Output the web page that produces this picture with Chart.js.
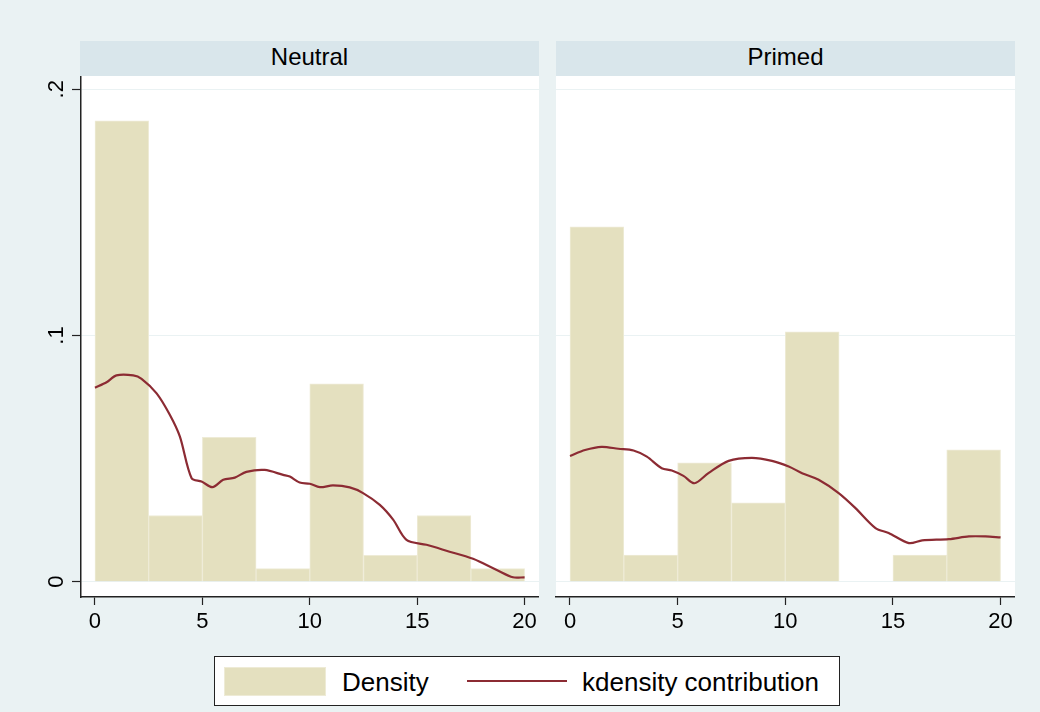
<!DOCTYPE html>
<html>
<head>
<meta charset="utf-8">
<script src="https://cdn.jsdelivr.net/npm/chart.js@4.4.1/dist/chart.umd.min.js"></script>
<style>
  body { margin: 0; background: #eaf2f3; }
  #wrap { position: relative; width: 1040px; height: 712px; background: #eaf2f3; font-family: "Liberation Sans", Arial, sans-serif; }
  .head { position: absolute; top: 41px; height: 35px; background: #d9e6eb; color: #000; font-size: 24px; line-height: 32px; text-align: center; }
  canvas { position: absolute; }
  #legend { position: absolute; left: 214px; top: 656px; width: 624px; height: 48px; background: #fff; border: 1px solid #222; }
  #legend .sw { position: absolute; left: 9px; top: 10px; width: 100px; height: 27px; background: #e4e0bf; border: 1px solid #eeebd6; }
  #legend .ln { position: absolute; left: 252px; top: 23px; width: 100px; height: 2px; }
  #legend .tx { position: absolute; top: 10px; font-size: 26px; line-height: 30px; }
</style>
</head>
<body>
<div id="wrap">
  <div class="head" style="left:80px;width:459px;">Neutral</div>
  <div class="head" style="left:556px;width:459px;">Primed</div>
  <canvas id="c1" width="539" height="574" style="left:0;top:76px;"></canvas>
  <canvas id="c2" width="475" height="574" style="left:540px;top:76px;"></canvas>
  <div id="legend"></div>
</div>
<script>
// histogram bins (midpoints, width 2.5)
var binMid = [1.25, 3.75, 6.25, 8.75, 11.25, 13.75, 16.25, 18.75];
var neutralDensity = [0.1872, 0.0269, 0.0586, 0.0053, 0.0804, 0.0107, 0.0269, 0.0053];
var primedDensity = [0.1441, 0.0108, 0.0483, 0.032, 0.1015, 0, 0.0108, 0.0536];

// kdensity curves
var neutralKx = [0, 0.54, 1.0, 1.78, 2.17, 2.87, 3.49, 3.95, 4.5, 4.96, 5.47, 5.97, 6.51, 7.05, 7.9, 8.76, 9.07, 9.53, 10.0, 10.47, 11.08, 11.86, 12.48, 13.26, 13.88, 14.5, 15.43, 16.36, 17.6, 18.68, 19.46, 20];
var neutralKy = [0.0788, 0.081, 0.0838, 0.0838, 0.0824, 0.0765, 0.0677, 0.059, 0.042, 0.0407, 0.0384, 0.0414, 0.0423, 0.0446, 0.0454, 0.0434, 0.0427, 0.0403, 0.0398, 0.0384, 0.0391, 0.0383, 0.036, 0.0312, 0.0252, 0.017, 0.015, 0.0126, 0.0093, 0.0049, 0.0018, 0.0018];
var primedKx = [0, 0.7, 1.47, 2.25, 2.95, 3.57, 4.26, 4.73, 5.27, 5.78, 6.43, 7.37, 8.45, 9.38, 10.16, 10.78, 11.55, 12.48, 13.26, 14.19, 14.8, 15.74, 16.36, 17.6, 18.53, 19.3, 20];
var primedKy = [0.0511, 0.0535, 0.0548, 0.054, 0.0533, 0.0508, 0.0461, 0.0452, 0.043, 0.04, 0.0441, 0.0491, 0.0503, 0.0491, 0.0468, 0.0441, 0.0414, 0.036, 0.0299, 0.0218, 0.0198, 0.0157, 0.0168, 0.0173, 0.0184, 0.0184, 0.018];

var xTicks = [0, 5, 10, 15, 20];
var yTicks = [0, 0.1, 0.2];
var yTickLabels = ['0', '.1', '.2'];

var barColor = '#e4e0bf';
var barEdge = '#eeebd6';
var lineColor = '#8c2b33';
var fontFam = '"Liberation Sans", Arial, sans-serif';

// white plot region
var plotBg = {
  id: 'plotBg',
  beforeDraw: function(chart) {
    var a = chart.chartArea, ctx = chart.ctx;
    ctx.save();
    ctx.fillStyle = '#fff';
    ctx.fillRect(a.left, a.top, a.right - a.left, a.bottom - a.top);
    ctx.restore();
  }
};

// rotated y tick labels (stata style)
var yLabels = {
  id: 'yLabels',
  afterDraw: function(chart) {
    var s = chart.scales.y, ctx = chart.ctx;
    ctx.save();
    ctx.font = '22px ' + fontFam;
    ctx.fillStyle = '#000';
    ctx.textAlign = 'center';
    ctx.textBaseline = 'middle';
    for (var i = 0; i < yTicks.length; i++) {
      var py = s.getPixelForValue(yTicks[i]);
      ctx.save();
      ctx.translate(s.right - 24, py);
      ctx.rotate(-Math.PI / 2);
      ctx.fillText(yTickLabels[i], 0, 0);
      ctx.restore();
    }
    ctx.restore();
  }
};

function makePanel(id, dens, kx, ky, first) {
  var bars = binMid.map(function(m, i) { return {x: m, y: dens[i]}; });
  var kd = kx.map(function(v, i) { return {x: v, y: ky[i]}; });
  return new Chart(document.getElementById(id), {
    type: 'bar',
    data: {
      datasets: [{
        type: 'line',
        label: 'kdensity contribution',
        data: kd,
        borderColor: lineColor,
        borderWidth: 2.2,
        pointRadius: 0,
        tension: 0.3,
        order: 0
      }, {
        label: 'Density',
        data: bars,
        backgroundColor: barColor,
        borderColor: barEdge,
        borderWidth: 1,
        barPercentage: 1,
        categoryPercentage: 1,
        order: 1
      }]
    },
    options: {
      responsive: false,
      animation: false,
      events: [],
      layout: { padding: 0 },
      plugins: { legend: { display: false }, tooltip: { enabled: false } },
      scales: {
        x: {
          type: 'linear',
          offset: false,
          min: -0.65,
          max: 20.67,
          afterBuildTicks: function(s) { s.ticks = xTicks.map(function(v) { return {value: v}; }); },
          afterFit: function(s) { s.height = 53; s.paddingLeft = 0; s.paddingRight = 0; },
          grid: { offset: false, drawOnChartArea: false, tickLength: 8, tickColor: '#222', tickWidth: 1.2 },
          border: { display: true, color: '#222', width: 1.5 },
          ticks: { color: '#000', font: { family: fontFam, size: 22 }, padding: 4, maxRotation: 0 }
        },
        y: {
          type: 'linear',
          min: -0.0062,
          max: 0.2054,
          afterBuildTicks: function(s) { s.ticks = yTicks.map(function(v) { return {value: v}; }); },
          afterFit: function(s) { s.width = first ? 81 : 16; s.paddingTop = 0; s.paddingBottom = 0; },
          grid: { color: '#eaf2f3', lineWidth: 1, drawTicks: first, tickLength: 9, tickColor: '#222', tickWidth: 1.2 },
          border: { display: first, color: '#222', width: 1.5 },
          ticks: { display: false }
        }
      }
    },
    plugins: first ? [plotBg, yLabels] : [plotBg]
  });
}

makePanel('c1', neutralDensity, neutralKx, neutralKy, true);
makePanel('c2', primedDensity, primedKx, primedKy, false);

// legend
var lg = document.getElementById('legend');
lg.innerHTML = '<div class="sw"></div><div class="tx" style="left:127px;">Density</div>' +
  '<div class="ln" style="background:' + lineColor + '"></div>' +
  '<div class="tx" style="left:367px;">kdensity contribution</div>';
</script>
</body>
</html>
